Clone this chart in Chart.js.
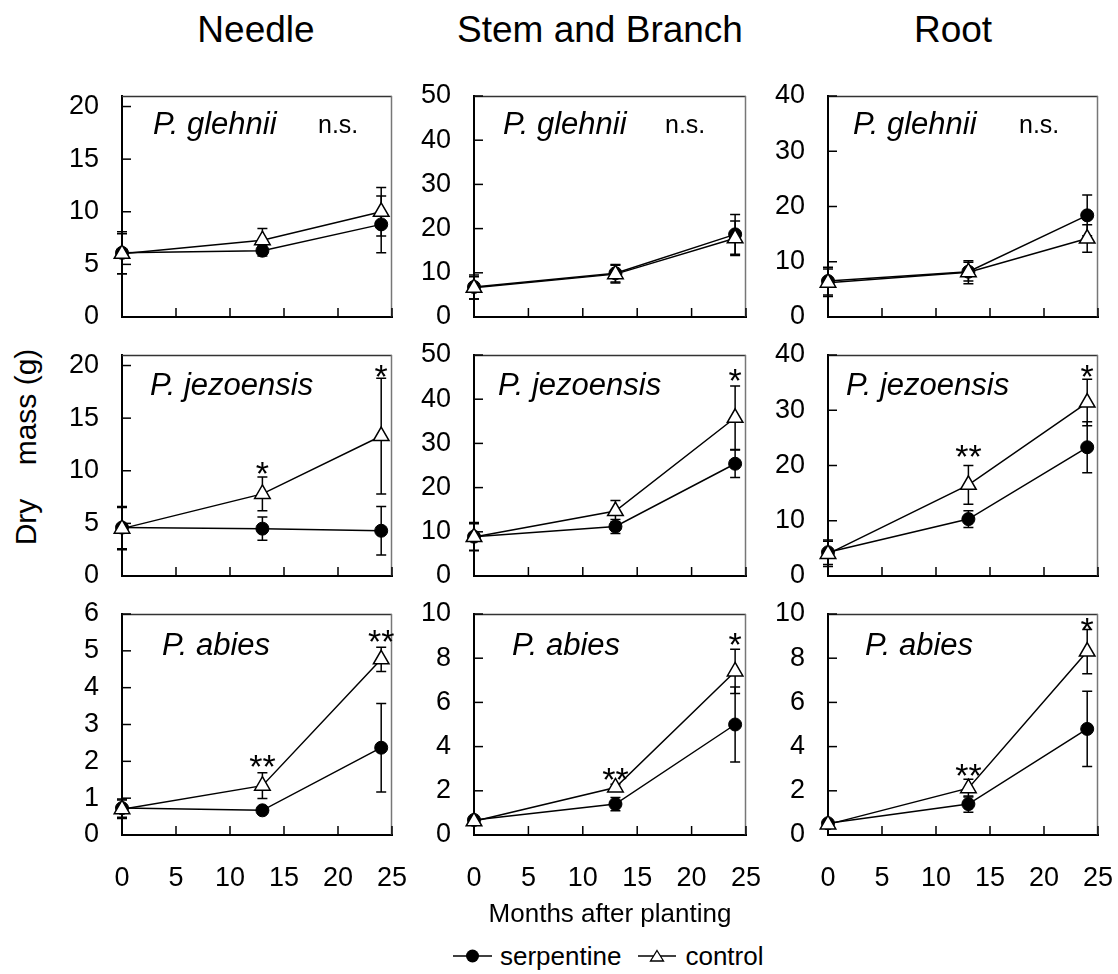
<!DOCTYPE html>
<html>
<head>
<meta charset="utf-8">
<script src="https://cdn.jsdelivr.net/npm/chart.js@4.4.1/dist/chart.umd.min.js"></script>
<style>
  html, body { margin: 0; padding: 0; background: #fff; }
  body { width: 1118px; height: 974px; position: relative; overflow: hidden;
         font-family: "Liberation Sans", Arial, sans-serif; color: #000; }
  canvas { position: absolute; }
  .colTitle { position: absolute; top: 12px; font-size: 37px; line-height: 36px;
              white-space: nowrap; transform: translateX(-50%); }
  #yTitle { position: absolute; left: -94px; top: 432px; width: 240px; height: 30px;
            font-size: 30px; line-height: 30px; white-space: pre; text-align: center;
            transform: rotate(-90deg); }
  #legend { position: absolute; left: 453px; top: 938px; height: 36px; display: flex;
            align-items: center; font-size: 26px; white-space: nowrap; }
</style>
</head>
<body>
<div class="colTitle" style="left:256px">Needle</div>
<div class="colTitle" style="left:600px">Stem and Branch</div>
<div class="colTitle" style="left:953px">Root</div>
<div id="yTitle">Dry    mass (g)</div>
<div id="legend">
  <svg width="39" height="16"><line x1="0" y1="8" x2="39" y2="8" stroke="#000" stroke-width="1.5"/><circle cx="19.5" cy="8" r="6.5" fill="#000"/></svg>
  <span style="margin:0 17px 0 8px">serpentine</span>
  <svg width="38" height="16"><line x1="0" y1="8" x2="38" y2="8" stroke="#000" stroke-width="1.5"/><polygon points="19,2.5 25.5,13 12.5,13" fill="#fff" stroke="#000" stroke-width="1.3"/></svg>
  <span style="margin-left:9px">control</span>
</div>

<script>
// sampling times and axis ticks
const months = [0, 13, 24];
const xTicks = [0, 5, 10, 15, 20, 25];
const organs = ['Needle', 'Stem and Branch', 'Root'];
const species = ['P. glehnii', 'P. jezoensis', 'P. abies'];

// mean dry mass (g) and error, rows = species (glehnii, jezoensis, abies)
const needleSerp    = [[6.1, 6.3, 8.8], [4.6, 4.5, 4.3], [0.73, 0.67, 2.37]];
const needleSerpErr = [[2.0, 0.5, 2.7], [2.0, 1.1, 2.3], [0.25, 0.05, 1.2]];
const needleCtrl    = [[6.0, 7.3, 10.0], [4.5, 7.8, 13.3], [0.70, 1.34, 4.77]];
const needleCtrlErr = [[1.9, 1.1, 2.3], [2.0, 1.6, 5.5], [0.25, 0.35, 0.33]];

const stemSerp    = [[6.8, 9.9, 18.7], [8.9, 11.2, 25.4], [0.68, 1.4, 5.0]];
const stemSerpErr = [[2.7, 2.0, 4.5], [3.2, 1.6, 3.1], [0.15, 0.3, 1.7]];
const stemCtrl    = [[6.6, 9.7, 17.8], [8.8, 14.7, 35.8], [0.62, 2.15, 7.4]];
const stemCtrlErr = [[2.5, 2.0, 3.9], [3.0, 2.4, 7.2], [0.12, 0.15, 1.0]];

const rootSerp    = [[6.5, 8.2, 18.4], [4.3, 10.3, 23.3], [0.53, 1.4, 4.8]];
const rootSerpErr = [[2.5, 1.7, 3.7], [2.2, 1.5, 4.6], [0.15, 0.37, 1.7]];
const rootCtrl    = [[6.2, 8.1, 14.2], [4.0, 16.5, 31.4], [0.48, 2.12, 8.3]];
const rootCtrlErr = [[2.5, 2.1, 2.5], [2.3, 3.5, 4.2], [0.12, 0.4, 1.0]];

// y axis top and tick step (rows = species, cols = organ)
const yMax  = [[21, 50, 40], [21, 50, 40], [6, 10, 10]];
const yStep = [[5, 10, 10], [5, 10, 10], [1, 2, 2]];

// significance marks: [row, organ, month, y, text]
const sigMarks = [
  [1, 0, 13, 10.5, '*'], [1, 0, 24, 19.7, '*'],
  [1, 1, 24, 46.1, '*'],
  [1, 2, 13, 23.0, '**'], [1, 2, 24, 37.6, '*'],
  [2, 0, 13, 2.07, '**'], [2, 0, 24, 5.48, '**'],
  [2, 1, 13, 2.85, '**'], [2, 1, 24, 8.98, '*'],
  [2, 2, 13, 3.03, '**'], [2, 2, 24, 9.67, '*']
];

const serpByOrgan    = [needleSerp, stemSerp, rootSerp];
const serpErrByOrgan = [needleSerpErr, stemSerpErr, rootSerpErr];
const ctrlByOrgan    = [needleCtrl, stemCtrl, rootCtrl];
const ctrlErrByOrgan = [needleCtrlErr, stemCtrlErr, rootCtrlErr];

// panel placement on the page
const colLeft = [122, 474, 828];
const colWidth = [270, 272, 270];
const rowTop = [96, 355, 614];
const plotH = 221;
const labelDx = [[31, 29, 25], [28, 24, 18], [40, 38, 37]];
const labelDy = [38, 40, 41];
const nsDx = [196, 191, 191];

const FONT = '"Liberation Sans", Arial, sans-serif';
Chart.defaults.font.family = FONT;
Chart.defaults.color = '#000';

// frame, inward ticks and error bars (under the lines and markers)
const panelDecor = {
  id: 'panelDecor',
  beforeDatasetsDraw(chart) {
    const { ctx, chartArea: a, scales: { x, y } } = chart;
    ctx.save();
    ctx.lineWidth = 1.5;
    ctx.strokeStyle = '#333';
    ctx.beginPath(); ctx.moveTo(a.left, a.top + 0.5); ctx.lineTo(a.right, a.top + 0.5); ctx.stroke();
    ctx.strokeStyle = '#777';
    ctx.beginPath(); ctx.moveTo(a.right - 0.5, a.top); ctx.lineTo(a.right - 0.5, a.bottom); ctx.stroke();

    ctx.strokeStyle = '#000';
    y.ticks.forEach(t => {
      const py = y.getPixelForValue(t.value);
      ctx.beginPath(); ctx.moveTo(a.left, py); ctx.lineTo(a.left + 9, py); ctx.stroke();
    });
    x.ticks.forEach(t => {
      const px = x.getPixelForValue(t.value);
      ctx.beginPath(); ctx.moveTo(px, a.bottom); ctx.lineTo(px, a.bottom - 9); ctx.stroke();
    });

    chart.data.datasets.forEach(ds => {
      ds.data.forEach((p, i) => {
        const px = x.getPixelForValue(p.x);
        const top = y.getPixelForValue(p.y + ds.errors[i]);
        const bot = y.getPixelForValue(p.y - ds.errors[i]);
        ctx.beginPath();
        ctx.moveTo(px, top); ctx.lineTo(px, bot);
        ctx.moveTo(px - 5, top); ctx.lineTo(px + 5, top);
        ctx.moveTo(px - 5, bot); ctx.lineTo(px + 5, bot);
        ctx.stroke();
      });
    });
    ctx.restore();
  }
};

function makeLabels(r, c) {
  return {
    id: 'labels',
    afterDatasetsDraw(chart) {
      const { ctx, chartArea: a, scales: { x, y } } = chart;
      ctx.save();
      ctx.fillStyle = '#000';
      ctx.textBaseline = 'alphabetic';
      ctx.textAlign = 'left';
      ctx.font = 'italic 31px ' + FONT;
      ctx.fillText(species[r], a.left + labelDx[r][c], a.top + labelDy[r]);
      if (r === 0) {
        ctx.font = '25px ' + FONT;
        ctx.fillText('n.s.', a.left + nsDx[c], a.top + 37);
      }
      ctx.font = '34px ' + FONT;
      ctx.textAlign = 'center';
      sigMarks.filter(s => s[0] === r && s[1] === c).forEach(s => {
        ctx.fillText(s[4], x.getPixelForValue(s[2]), y.getPixelForValue(s[3]) + 0.57 * 34);
      });
      ctx.restore();
    }
  };
}

function makePanel(r, c) {
  const bottomRow = r === 2;
  const isMid = bottomRow && c === 1;
  const xH = bottomRow ? (isMid ? 95 : 60) : 0;
  const yW = 80;
  // tick padding also counts as label overflow in the layout, so leave room for it
  const pad = { top: 45, right: 45, bottom: bottomRow ? 10 : 45, left: 0 };

  const canvas = document.createElement('canvas');
  canvas.width = yW + colWidth[c] + pad.right;
  canvas.height = pad.top + plotH + xH + pad.bottom;
  canvas.style.left = (colLeft[c] - yW) + 'px';
  canvas.style.top = (rowTop[r] - pad.top) + 'px';
  document.body.appendChild(canvas);

  const serp = serpByOrgan[c][r], ctrl = ctrlByOrgan[c][r];

  new Chart(canvas, {
    type: 'line',
    data: {
      datasets: [
        {
          label: 'serpentine',
          data: months.map((m, i) => ({ x: m, y: serp[i] })),
          errors: serpErrByOrgan[c][r],
          order: 1,
          clip: false,
          borderColor: '#000',
          borderWidth: 1.5,
          pointStyle: 'circle',
          pointRadius: 6.5,
          pointBackgroundColor: '#000',
          pointBorderColor: '#000',
          pointBorderWidth: 1
        },
        {
          label: 'control',
          data: months.map((m, i) => ({ x: m, y: ctrl[i] })),
          errors: ctrlErrByOrgan[c][r],
          order: 0,
          clip: false,
          borderColor: '#000',
          borderWidth: 1.5,
          pointStyle: 'triangle',
          pointRadius: 9,
          pointBackgroundColor: '#fff',
          pointBorderColor: '#000',
          pointBorderWidth: 1.5
        }
      ]
    },
    options: {
      responsive: false,
      animation: false,
      events: [],
      layout: { padding: pad },
      plugins: { legend: { display: false }, tooltip: { enabled: false } },
      scales: {
        x: {
          type: 'linear',
          min: 0,
          max: 25,
          afterBuildTicks: s => { s.ticks = xTicks.map(v => ({ value: v })); },
          afterFit: s => { s.height = xH; },
          grid: { display: false, drawTicks: false },
          border: { color: '#000', width: 2 },
          ticks: { display: bottomRow, padding: 27, maxRotation: 0, autoSkip: false,
                   color: '#000', font: { size: 27 } },
          title: {
            display: isMid,
            text: 'Months after planting',
            color: '#000',
            font: { size: 26 },
            padding: { top: 0, bottom: 0 }
          }
        },
        y: {
          min: 0,
          max: yMax[r][c],
          afterBuildTicks: s => {
            const t = [];
            for (let v = 0; v <= yMax[r][c]; v += yStep[r][c]) t.push({ value: v });
            s.ticks = t;
          },
          afterFit: s => { s.width = yW; },
          grid: { display: false, drawTicks: false },
          border: { color: '#000', width: 2 },
          ticks: { padding: 23, autoSkip: false, color: '#000', font: { size: 27 } }
        }
      }
    },
    plugins: [panelDecor, makeLabels(r, c)]
  });
}

for (let r = 0; r < 3; r++) {
  for (let c = 0; c < 3; c++) makePanel(r, c);
}
</script>
</body>
</html>
